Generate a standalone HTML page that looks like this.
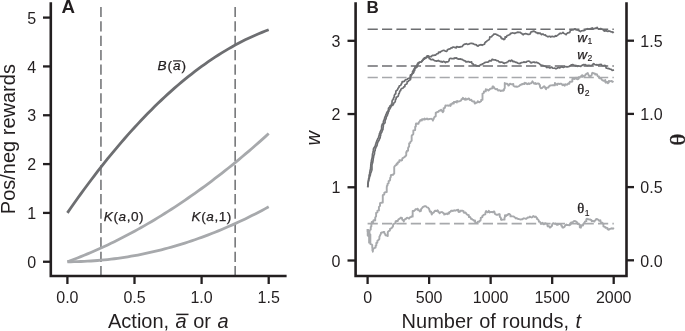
<!DOCTYPE html>
<html lang="en"><head><meta charset="utf-8"><title>Figure</title>
<style>
html,body{margin:0;padding:0;background:#fff}
body{width:685px;height:331px;overflow:hidden}
svg{display:block}
text{font-family:"Liberation Sans",Arial,Helvetica,sans-serif;fill:#231f20}
.tk{font-size:16px}
.lb{font-size:20px;word-spacing:0.9px}
.an{font-size:13.6px;letter-spacing:0.55px;stroke:#231f20;stroke-width:0.25px}
.sub{font-size:8.6px;stroke-width:0.15px}
.it{font-style:italic}
.th{font-family:"Liberation Serif","DejaVu Serif",serif}
.an.th{font-size:14.6px;stroke-width:0.35px}
.ax{stroke:#231f20;stroke-width:2.6;fill:none}
.t{stroke:#231f20;stroke-width:2.3;fill:none}
</style></head><body>
<svg width="685" height="331" viewBox="0 0 685 331">
<rect width="685" height="331" fill="#fff"/>

<g id="panelA">
<line x1="100.95" y1="6.9" x2="100.95" y2="276" stroke="#6d6e71" stroke-width="1.5" stroke-dasharray="10.2 4.2"/>
<line x1="235.15" y1="6.9" x2="235.15" y2="276" stroke="#6d6e71" stroke-width="1.5" stroke-dasharray="10.2 4.2"/>
<path d="M67.40,261.75 L70.76,261.73 L74.11,261.69 L77.47,261.61 L80.82,261.51 L84.18,261.37 L87.53,261.20 L90.89,261.00 L94.24,260.77 L97.59,260.51 L100.95,260.22 L104.31,259.90 L107.66,259.55 L111.02,259.17 L114.37,258.76 L117.72,258.32 L121.08,257.84 L124.44,257.34 L127.79,256.81 L131.15,256.24 L134.50,255.65 L137.86,255.02 L141.21,254.36 L144.56,253.68 L147.92,252.96 L151.28,252.21 L154.63,251.43 L157.99,250.63 L161.34,249.79 L164.69,248.92 L168.05,248.02 L171.41,247.09 L174.76,246.12 L178.12,245.13 L181.47,244.11 L184.82,243.06 L188.18,241.97 L191.53,240.86 L194.89,239.72 L198.25,238.54 L201.60,237.34 L204.96,236.10 L208.31,234.83 L211.66,233.54 L215.02,232.21 L218.38,230.85 L221.73,229.46 L225.09,228.04 L228.44,226.59 L231.80,225.11 L235.15,223.60 L238.50,222.06 L241.86,220.49 L245.22,218.89 L248.57,217.25 L251.92,215.59 L255.28,213.90 L258.63,212.17 L261.99,210.42 L265.35,208.63 L268.70,206.82" fill="none" stroke="#a7a9ac" stroke-width="2.8" stroke-linecap="butt"/>
<path d="M67.40,261.75 L70.76,260.51 L74.11,259.25 L77.47,257.95 L80.82,256.62 L84.18,255.26 L87.53,253.88 L90.89,252.46 L94.24,251.01 L97.59,249.53 L100.95,248.02 L104.31,246.48 L107.66,244.90 L111.02,243.30 L114.37,241.67 L117.72,240.01 L121.08,238.31 L124.44,236.59 L127.79,234.83 L131.15,233.05 L134.50,231.23 L137.86,229.38 L141.21,227.51 L144.56,225.60 L147.92,223.66 L151.28,221.69 L154.63,219.70 L157.99,217.67 L161.34,215.61 L164.69,213.52 L168.05,211.39 L171.41,209.24 L174.76,207.06 L178.12,204.85 L181.47,202.60 L184.82,200.33 L188.18,198.03 L191.53,195.69 L194.89,193.33 L198.25,190.93 L201.60,188.50 L204.96,186.05 L208.31,183.56 L211.66,181.04 L215.02,178.49 L218.38,175.92 L221.73,173.31 L225.09,170.67 L228.44,168.00 L231.80,165.30 L235.15,162.56 L238.50,159.80 L241.86,157.01 L245.22,154.19 L248.57,151.33 L251.92,148.45 L255.28,145.53 L258.63,142.59 L261.99,139.61 L265.35,136.61 L268.70,133.57" fill="none" stroke="#a7a9ac" stroke-width="2.8" stroke-linecap="butt"/>
<path d="M67.40,212.92 L70.76,208.07 L74.11,203.28 L77.47,198.55 L80.82,193.88 L84.18,189.27 L87.53,184.72 L90.89,180.23 L94.24,175.81 L97.59,171.45 L100.95,167.14 L104.31,162.90 L107.66,158.72 L111.02,154.60 L114.37,150.54 L117.72,146.54 L121.08,142.60 L124.44,138.73 L127.79,134.91 L131.15,131.16 L134.50,127.47 L137.86,123.84 L141.21,120.27 L144.56,116.76 L147.92,113.31 L151.28,109.92 L154.63,106.59 L157.99,103.33 L161.34,100.12 L164.69,96.98 L168.05,93.90 L171.41,90.88 L174.76,87.92 L178.12,85.02 L181.47,82.18 L184.82,79.40 L188.18,76.68 L191.53,74.03 L194.89,71.44 L198.25,68.90 L201.60,66.43 L204.96,64.02 L208.31,61.67 L211.66,59.38 L215.02,57.15 L218.38,54.99 L221.73,52.88 L225.09,50.83 L228.44,48.85 L231.80,46.93 L235.15,45.07 L238.50,43.27 L241.86,41.53 L245.22,39.85 L248.57,38.23 L251.92,36.67 L255.28,35.18 L258.63,33.74 L261.99,32.37 L265.35,31.06 L268.70,29.81" fill="none" stroke="#6d6e71" stroke-width="2.8" stroke-linecap="butt"/>
<path class="ax" d="M50.8,2.2 V276 H286.6"/>
<line class="t" x1="43" y1="261.75" x2="50.8" y2="261.75"/>
<text class="tk" x="36.2" y="267.95" text-anchor="end">0</text>
<line class="t" x1="43" y1="212.92" x2="50.8" y2="212.92"/>
<text class="tk" x="36.2" y="219.12" text-anchor="end">1</text>
<line class="t" x1="43" y1="164.09" x2="50.8" y2="164.09"/>
<text class="tk" x="36.2" y="170.29" text-anchor="end">2</text>
<line class="t" x1="43" y1="115.26" x2="50.8" y2="115.26"/>
<text class="tk" x="36.2" y="121.46" text-anchor="end">3</text>
<line class="t" x1="43" y1="66.43" x2="50.8" y2="66.43"/>
<text class="tk" x="36.2" y="72.63" text-anchor="end">4</text>
<line class="t" x1="43" y1="17.60" x2="50.8" y2="17.60"/>
<text class="tk" x="36.2" y="23.80" text-anchor="end">5</text>
<line class="t" x1="67.40" y1="276" x2="67.40" y2="284" />
<text class="tk" x="67.40" y="302.8" text-anchor="middle">0.0</text>
<line class="t" x1="134.50" y1="276" x2="134.50" y2="284" />
<text class="tk" x="134.50" y="302.8" text-anchor="middle">0.5</text>
<line class="t" x1="201.60" y1="276" x2="201.60" y2="284" />
<text class="tk" x="201.60" y="302.8" text-anchor="middle">1.0</text>
<line class="t" x1="268.70" y1="276" x2="268.70" y2="284" />
<text class="tk" x="268.70" y="302.8" text-anchor="middle">1.5</text>
<text transform="translate(61.4,12.8) scale(1.07,1)" style="font-size:17.5px;font-weight:bold">A</text>
<text class="lb" style="word-spacing:0" transform="translate(14.8,214.2) rotate(-90)">Pos/neg rewards</text>
<text class="lb" x="108" y="327.5">Action, <tspan class="it">a</tspan> or <tspan class="it">a</tspan></text>
<line x1="176.2" y1="314.4" x2="188.5" y2="314.4" stroke="#231f20" stroke-width="1.5"/>
<text class="an" style="letter-spacing:0.95px" x="157.5" y="69.8"><tspan class="it">B</tspan>(<tspan class="it">a</tspan>)</text>
<line x1="173.1" y1="60.9" x2="181.3" y2="60.9" stroke="#231f20" stroke-width="1.2"/>
<text class="an" x="103.8" y="220.8"><tspan class="it">K</tspan>(<tspan class="it">a</tspan>,0)</text>
<text class="an" x="191.6" y="220.8"><tspan class="it">K</tspan>(<tspan class="it">a</tspan>,1)</text>
</g>
<g id="panelB">
<line x1="367.6" y1="29.20" x2="613.8" y2="29.20" stroke="#6d6e71" stroke-width="1.50" stroke-dasharray="10.2 4.2"/>
<line x1="367.6" y1="65.90" x2="613.8" y2="65.90" stroke="#6d6e71" stroke-width="1.50" stroke-dasharray="10.2 4.2"/>
<line x1="367.6" y1="77.50" x2="613.8" y2="77.50" stroke="#a7a9ac" stroke-width="1.60" stroke-dasharray="10.2 4.2"/>
<line x1="367.6" y1="223.60" x2="613.8" y2="223.60" stroke="#a7a9ac" stroke-width="1.60" stroke-dasharray="10.2 4.2"/>
<path d="M367.70,229.00 L367.70,229.82 L367.70,230.62 L367.70,231.41 L368.87,232.16 L368.87,232.98 L369.10,233.75 L369.10,234.57 L369.10,235.37 L369.10,236.20 L369.10,237.00 L369.10,237.80 L369.10,238.57 L369.10,239.39 L369.10,240.19 L369.10,241.00 L369.10,241.82 L369.10,242.66 L369.10,242.65 L369.10,241.77 L369.10,240.95 L369.10,240.20 L369.10,239.44 L369.47,238.67 L369.47,237.83 L369.47,237.00 L369.47,236.23 L369.47,235.45 L369.47,234.64 L369.47,233.83 L369.47,232.99 L369.47,232.20 L369.47,231.47 L369.47,231.34 L369.47,232.15 L369.47,232.95 L369.47,233.74 L370.35,234.48 L370.35,235.30 L370.35,236.10 L370.35,236.91 L370.35,237.72 L370.35,238.53 L370.35,239.31 L370.35,240.19 L370.35,240.96 L370.35,241.89 L370.35,242.90 L370.35,243.57 L370.35,244.02 L371.67,244.43 L372.25,245.09 L372.25,246.00 L372.25,246.90 L372.25,247.53 L372.43,248.27 L372.43,249.77 L372.43,250.40 L372.82,250.72 L372.83,251.73 L372.93,250.89 L372.93,249.61 L373.24,249.29 L373.49,248.64 L374.10,248.12 L375.57,247.70 L375.57,246.87 L375.57,245.91 L376.32,245.42 L376.32,244.21 L376.32,243.34 L376.32,242.93 L377.37,242.74 L377.39,241.82 L377.41,240.81 L378.11,240.35 L378.72,239.81 L379.21,239.18 L379.40,238.32 L379.40,237.35 L379.40,236.67 L379.82,235.98 L380.21,235.28 L380.42,234.50 L380.96,233.86 L380.96,232.79 L381.84,232.50 L382.89,232.33 L383.15,231.97 L384.32,231.98 L384.49,232.93 L384.73,233.81 L385.39,234.29 L385.52,235.28 L386.47,235.47 L387.22,235.41 L387.77,236.12 L387.77,235.10 L387.77,234.26 L387.77,233.02 L387.77,232.44 L387.99,231.74 L388.69,231.17 L389.62,230.71 L390.04,230.01 L390.04,228.98 L390.79,228.62 L391.26,228.08 L391.96,227.77 L392.42,227.06 L393.00,226.51 L393.05,225.29 L393.27,224.28 L393.97,223.88 L394.63,223.42 L395.59,223.40 L395.59,221.75 L395.59,221.56 L396.16,221.02 L397.66,221.12 L397.93,220.33 L398.29,219.60 L398.98,219.11 L399.79,218.68 L400.88,217.58 L401.96,217.91 L402.11,219.14 L402.57,219.89 L403.19,220.35 L403.86,221.49 L404.05,219.85 L404.82,219.55 L405.34,218.90 L406.19,218.71 L406.60,217.92 L407.46,217.74 L409.08,218.56 L409.60,217.88 L410.00,217.11 L411.02,217.10 L411.54,216.46 L412.66,216.59 L412.66,215.05 L412.66,213.86 L412.66,212.66 L412.66,211.96 L412.66,210.97 L413.90,211.07 L414.45,210.45 L415.15,209.92 L415.45,209.30 L415.93,209.23 L416.73,209.28 L417.77,208.70 L418.12,210.18 L419.00,210.08 L419.82,211.40 L420.97,210.88 L420.97,209.35 L421.43,208.72 L421.99,208.14 L422.51,207.50 L423.05,206.90 L423.94,206.52 L424.97,206.16 L425.98,206.31 L426.58,206.96 L427.26,207.42 L428.21,207.57 L428.55,208.53 L429.20,209.09 L429.33,209.95 L429.78,210.61 L429.78,211.65 L431.22,211.60 L431.22,212.97 L431.40,213.37 L431.76,214.53 L432.39,213.40 L432.94,212.79 L433.75,212.55 L434.19,211.79 L434.67,211.09 L435.34,210.63 L436.35,211.14 L437.49,210.28 L438.09,210.84 L438.32,212.12 L439.22,212.12 L439.52,213.26 L441.10,212.08 L442.11,212.07 L442.70,212.68 L443.42,213.05 L444.08,213.50 L444.21,214.57 L444.32,214.16 L444.80,214.32 L445.62,214.08 L446.20,213.53 L447.65,214.15 L447.88,213.11 L449.14,213.53 L449.22,212.27 L449.97,212.02 L450.67,211.63 L451.09,210.65 L452.03,210.76 L453.02,210.99 L453.67,210.71 L454.29,210.24 L455.17,210.69 L455.96,210.53 L456.27,210.11 L458.28,209.64 L458.28,210.51 L458.28,211.59 L458.82,212.02 L460.27,211.54 L460.27,211.18 L460.27,211.60 L460.27,210.73 L460.27,210.70 L461.33,210.81 L462.70,210.75 L463.52,211.15 L463.72,212.59 L464.52,212.78 L465.55,212.47 L466.07,213.31 L466.55,214.11 L467.22,214.57 L467.93,214.97 L468.85,215.10 L468.85,217.07 L469.63,216.68 L470.27,217.17 L470.70,217.88 L470.89,218.80 L471.86,218.97 L472.38,219.58 L473.29,219.82 L473.63,220.59 L475.04,220.34 L475.04,221.74 L475.28,222.38 L475.98,222.94 L476.85,222.82 L477.90,221.71 L477.90,221.76 L477.90,221.74 L479.31,221.69 L479.56,220.90 L480.47,220.52 L480.68,219.71 L480.68,218.68 L480.79,217.90 L481.60,217.46 L482.40,217.07 L482.40,216.01 L482.98,215.49 L483.57,214.93 L484.42,214.58 L485.38,214.33 L485.38,212.89 L485.64,212.15 L486.10,211.02 L487.43,212.35 L488.18,212.07 L488.78,210.84 L489.72,212.46 L490.52,212.01 L491.32,211.93 L492.12,212.00 L492.81,212.32 L494.14,211.38 L494.64,212.23 L494.67,213.29 L495.07,214.01 L495.76,214.46 L496.60,214.77 L497.69,214.75 L499.10,214.05 L499.74,214.42 L499.74,215.95 L499.85,216.95 L500.55,217.35 L500.95,218.15 L500.95,219.68 L501.74,219.94 L502.54,219.61 L504.53,219.67 L504.53,218.68 L504.53,217.59 L504.92,217.19 L504.92,216.11 L504.92,215.43 L505.36,215.21 L506.21,215.88 L506.84,214.91 L507.70,215.15 L508.27,213.91 L509.12,213.91 L509.83,214.27 L510.37,214.91 L510.43,216.39 L511.44,216.26 L512.32,216.33 L513.19,216.43 L513.98,216.67 L514.61,217.31 L515.35,217.62 L515.92,218.45 L516.87,218.13 L517.52,218.71 L518.25,219.04 L519.10,219.13 L519.91,219.39 L520.72,219.47 L521.57,219.32 L522.39,219.30 L523.36,218.50 L523.90,218.32 L524.48,218.43 L525.44,218.69 L526.31,218.73 L526.97,218.21 L527.53,217.45 L528.41,217.46 L529.20,217.28 L529.87,216.52 L530.80,217.06 L531.70,217.53 L532.43,217.10 L533.24,215.95 L534.10,216.49 L534.78,216.97 L535.77,216.56 L536.32,217.49 L537.00,218.02 L537.03,219.06 L537.93,219.38 L538.42,220.01 L538.87,220.67 L538.87,221.68 L540.00,221.82 L540.35,222.50 L540.75,223.79 L541.67,223.50 L542.65,222.84 L543.23,223.88 L543.94,224.33 L545.04,223.18 L545.85,223.62 L547.08,223.59 L547.44,224.44 L547.44,225.58 L547.72,226.42 L548.95,226.32 L549.59,226.43 L549.78,227.64 L550.59,227.29 L551.08,226.55 L551.79,226.17 L552.10,225.15 L552.35,224.00 L553.22,223.11 L554.54,223.85 L555.34,223.55 L556.19,224.30 L557.04,224.88 L557.84,224.83 L558.59,224.14 L559.54,223.86 L560.54,224.03 L561.08,224.74 L561.41,225.88 L562.15,226.19 L562.42,227.46 L563.53,227.61 L564.53,226.80 L565.08,225.61 L565.79,225.17 L566.41,224.51 L567.26,225.16 L567.87,224.85 L569.33,225.34 L569.99,224.88 L570.65,224.43 L570.67,223.20 L571.08,222.35 L572.05,222.48 L572.81,222.23 L573.37,221.45 L574.07,221.04 L574.94,221.08 L575.74,221.29 L576.01,221.64 L576.71,222.04 L577.31,222.60 L577.40,223.51 L577.91,224.13 L579.15,224.25 L579.78,224.79 L579.78,225.86 L579.78,227.25 L580.86,227.70 L581.13,226.30 L581.13,225.23 L582.80,225.66 L583.19,224.93 L583.32,223.97 L583.85,223.36 L584.52,222.84 L584.79,222.04 L585.21,221.35 L586.35,221.17 L586.35,220.09 L586.35,219.22 L586.92,218.78 L587.48,218.93 L588.27,219.10 L588.95,219.54 L589.90,219.34 L590.56,219.85 L591.38,219.92 L591.76,221.17 L592.73,220.87 L593.47,221.15 L594.39,221.56 L594.81,220.58 L595.55,220.24 L595.97,219.26 L597.02,218.98 L597.92,219.53 L598.54,220.03 L598.99,220.73 L600.41,220.33 L600.48,221.43 L600.81,222.20 L601.55,222.47 L602.38,222.69 L602.81,223.47 L603.42,224.00 L603.42,225.70 L603.42,226.38 L604.08,226.71 L605.05,227.01 L605.42,227.73 L606.69,227.82 L607.53,228.20 L607.53,229.31 L608.66,229.37 L608.66,229.84 L608.66,229.63 L608.66,229.63 L609.23,229.47 L609.75,228.84 L610.80,228.83 L611.41,228.33 L612.37,228.69 L613.07,228.28 L614.08,228.81" fill="none" stroke="#a7a9ac" stroke-width="1.9" stroke-linejoin="round"/>
<path d="M367.70,229.00 L367.70,229.82 L367.72,230.60 L367.72,231.43 L367.72,232.30 L367.72,233.08 L367.72,233.93 L367.72,234.72 L367.72,235.61 L368.76,236.00 L368.76,235.00 L368.76,234.13 L368.76,233.41 L368.76,232.61 L369.15,231.88 L369.26,231.09 L369.26,230.28 L370.73,229.61 L370.73,228.86 L370.73,228.21 L370.73,227.10 L370.73,226.95 L371.36,226.49 L371.36,225.12 L371.36,224.41 L371.72,223.87 L371.72,222.54 L371.72,221.99 L373.31,222.02 L373.31,220.61 L373.53,220.29 L375.22,220.36 L375.22,219.14 L375.22,218.20 L375.22,217.52 L375.72,216.89 L376.11,216.18 L376.11,214.97 L376.11,214.13 L376.11,213.55 L376.13,212.79 L377.42,212.40 L377.42,211.50 L377.42,210.64 L378.92,210.39 L378.92,209.46 L378.92,208.36 L378.92,207.66 L378.92,206.88 L379.54,206.38 L380.02,205.71 L380.02,204.79 L380.02,203.93 L380.02,203.08 L381.33,202.79 L382.78,202.51 L382.78,201.46 L382.78,200.71 L382.78,199.91 L382.78,198.89 L382.78,197.97 L382.78,197.14 L382.78,195.94 L382.78,195.25 L383.08,194.87 L384.26,194.48 L384.30,193.64 L384.31,192.78 L385.14,192.24 L386.74,192.00 L386.74,190.76 L386.74,189.75 L386.74,188.94 L386.74,188.42 L386.74,187.43 L386.83,186.90 L386.83,185.96 L387.50,185.44 L387.53,184.59 L387.58,183.76 L388.60,183.29 L388.60,182.17 L388.60,181.32 L389.08,180.91 L389.92,180.37 L390.15,179.60 L390.15,178.18 L390.15,177.83 L390.73,177.27 L390.82,176.42 L390.82,175.09 L391.41,174.93 L393.06,174.85 L393.35,174.10 L394.22,173.64 L394.22,172.42 L394.22,171.68 L394.22,170.67 L394.22,169.62 L394.22,168.96 L394.22,168.09 L394.22,167.34 L394.41,166.59 L394.99,165.92 L395.69,165.25 L396.62,164.92 L396.62,163.82 L397.69,163.73 L397.69,162.34 L398.46,162.25 L399.33,161.97 L399.33,160.33 L399.72,160.14 L401.30,160.53 L402.13,160.19 L402.19,159.23 L402.37,158.38 L403.18,157.97 L403.76,157.40 L404.70,157.07 L405.03,156.33 L405.89,155.90 L406.24,155.14 L406.24,153.98 L406.24,152.92 L406.24,152.19 L406.91,151.83 L406.91,150.85 L408.09,150.64 L408.09,149.48 L408.09,148.80 L408.09,147.93 L408.44,147.38 L408.96,146.70 L409.16,145.93 L409.16,144.91 L409.16,144.09 L409.16,143.34 L410.28,142.92 L410.28,142.03 L410.81,141.41 L411.66,140.82 L411.66,139.80 L411.66,138.94 L411.66,137.79 L411.66,137.16 L411.67,136.67 L411.67,135.75 L412.14,135.14 L413.02,134.55 L413.33,133.80 L413.33,132.89 L413.36,132.15 L413.36,131.24 L413.36,130.43 L415.17,130.11 L415.17,129.14 L415.17,128.17 L415.17,127.52 L415.17,126.89 L415.84,126.40 L415.84,125.30 L415.84,124.21 L416.07,123.41 L417.36,123.74 L418.55,123.90 L418.61,122.74 L419.01,121.97 L419.74,121.59 L419.97,120.61 L420.62,120.08 L421.91,120.47 L421.99,119.21 L423.00,119.23 L424.05,119.69 L424.53,118.52 L425.46,119.36 L426.19,119.02 L426.97,118.48 L427.69,119.30 L428.50,119.23 L429.33,119.00 L430.25,118.83 L431.20,118.79 L431.94,119.10 L432.49,119.61 L432.92,120.57 L433.09,119.69 L433.67,119.08 L433.68,118.21 L434.38,117.63 L434.52,116.82 L435.65,116.38 L435.73,115.55 L435.73,114.27 L435.73,113.59 L435.73,112.68 L436.57,112.68 L437.06,112.03 L438.01,111.88 L438.46,111.73 L438.87,110.85 L439.64,110.51 L440.45,110.54 L441.12,109.71 L442.83,112.24 L443.57,111.27 L443.57,109.49 L443.57,108.16 L444.37,108.14 L445.00,107.64 L445.15,106.43 L445.44,105.42 L446.66,105.69 L447.51,105.42 L448.58,105.73 L449.32,105.43 L450.47,105.93 L450.47,104.12 L451.55,104.52 L452.02,103.66 L452.54,102.93 L453.78,103.62 L453.84,101.95 L454.78,102.04 L455.54,101.76 L456.79,102.50 L457.04,101.02 L458.02,101.32 L458.93,101.48 L459.65,101.13 L460.42,100.90 L461.12,100.47 L461.56,99.17 L462.39,99.00 L462.93,97.81 L464.08,99.11 L465.08,99.83 L465.56,98.46 L466.56,99.47 L467.26,99.30 L468.43,98.49 L469.22,98.67 L469.63,99.81 L470.36,100.14 L471.39,99.79 L471.78,100.92 L472.52,101.28 L473.34,101.50 L474.42,101.36 L474.57,102.54 L474.77,103.64 L475.69,103.22 L476.03,102.91 L476.69,102.49 L477.54,102.33 L477.80,101.27 L479.50,102.39 L480.14,101.77 L481.13,101.26 L481.13,100.06 L482.50,99.86 L482.50,98.97 L482.50,97.49 L482.50,97.12 L482.50,96.30 L482.50,95.22 L482.50,94.56 L482.50,93.63 L483.23,93.24 L483.95,92.73 L483.95,91.36 L484.64,91.37 L485.76,91.40 L485.76,89.24 L486.49,89.83 L487.30,89.67 L487.86,89.85 L488.48,90.55 L489.29,89.85 L490.06,88.80 L490.90,88.83 L491.59,88.36 L492.45,88.40 L492.58,86.36 L493.43,86.38 L494.63,88.48 L494.89,88.41 L495.30,89.07 L496.14,89.23 L497.18,89.04 L497.62,89.87 L498.20,90.46 L499.26,90.28 L500.12,90.36 L500.68,91.11 L501.73,90.65 L502.27,90.42 L503.07,90.90 L503.92,90.16 L503.92,89.27 L504.57,88.65 L504.76,87.87 L504.76,87.03 L504.76,86.09 L504.76,85.38 L504.76,84.46 L504.76,83.66 L504.76,82.85 L505.23,83.93 L506.03,83.78 L506.83,83.60 L507.63,83.99 L508.43,85.58 L508.85,85.43 L509.92,83.71 L510.68,83.97 L511.40,84.32 L512.32,84.18 L513.29,83.94 L513.43,85.78 L514.26,86.33 L515.15,86.69 L515.96,86.51 L516.75,86.77 L517.55,86.70 L518.37,86.43 L519.20,86.02 L519.97,85.20 L520.52,84.70 L521.34,84.70 L521.92,83.98 L522.90,84.30 L523.45,83.50 L524.53,84.08 L524.88,82.79 L525.89,83.09 L526.91,83.97 L527.72,84.20 L528.39,83.26 L529.31,84.01 L530.04,83.47 L530.83,83.34 L531.57,82.90 L532.40,81.34 L533.13,82.45 L533.76,83.09 L534.36,83.81 L535.44,83.11 L535.97,84.06 L536.95,83.70 L538.08,83.42 L538.98,83.58 L539.26,84.61 L539.95,85.02 L539.95,86.66 L540.34,87.35 L540.85,88.22 L542.04,87.99 L543.14,87.08 L544.14,86.21 L544.84,86.76 L545.35,88.25 L546.06,89.22 L546.82,87.58 L547.58,87.59 L548.57,87.67 L548.78,86.47 L549.56,86.22 L550.02,85.44 L550.93,85.35 L551.77,85.29 L552.60,85.16 L553.40,85.28 L554.21,84.97 L554.90,85.34 L554.90,82.94 L556.07,83.99 L557.23,84.92 L557.66,83.70 L558.49,83.66 L559.48,84.09 L560.36,83.68 L561.27,83.68 L561.93,84.21 L562.42,85.20 L563.55,84.41 L564.08,85.17 L564.78,85.71 L564.87,84.33 L565.80,84.27 L567.17,84.86 L567.64,84.13 L568.12,83.42 L569.36,83.79 L569.52,82.56 L569.85,81.75 L571.12,81.70 L572.33,81.61 L572.33,80.02 L572.33,79.21 L572.55,78.77 L573.48,78.81 L573.48,78.71 L573.88,78.20 L574.33,79.04 L575.98,77.71 L576.08,78.55 L576.85,78.96 L577.93,79.21 L578.60,78.77 L578.60,77.12 L579.72,77.64 L580.26,76.83 L580.90,76.28 L582.03,76.96 L582.03,75.16 L583.82,76.34 L584.61,75.99 L585.30,75.56 L585.43,74.52 L586.17,74.14 L586.43,73.88 L586.43,73.74 L587.74,73.03 L587.99,73.99 L588.48,74.66 L588.70,75.66 L589.63,76.31 L590.75,76.03 L591.50,75.63 L591.83,74.12 L592.33,72.82 L593.66,73.23 L594.76,73.50 L595.25,74.55 L596.25,74.09 L597.08,74.42 L597.41,75.70 L597.96,76.32 L598.96,76.43 L599.05,77.49 L599.48,78.19 L600.65,78.14 L601.36,78.53 L601.61,79.42 L602.21,79.95 L602.84,80.45 L603.59,80.80 L605.36,80.02 L605.36,81.45 L605.36,82.32 L605.95,82.70 L607.17,81.92 L607.77,82.53 L607.86,83.24 L608.11,82.99 L608.80,82.54 L608.80,80.92 L609.74,81.22 L610.80,81.15 L611.60,81.00 L612.05,81.71 L612.70,81.51 L613.35,82.30" fill="none" stroke="#a7a9ac" stroke-width="1.9" stroke-linejoin="round"/>
<path d="M367.70,187.30 L367.76,186.50 L367.90,185.71 L367.90,184.90 L368.06,184.12 L368.06,183.31 L368.18,182.52 L368.31,181.73 L368.35,180.93 L368.81,180.20 L368.86,179.41 L369.12,178.65 L369.45,177.91 L369.47,177.08 L369.88,176.37 L370.04,175.59 L370.37,174.85 L370.44,174.03 L370.55,173.23 L370.99,172.53 L371.26,171.78 L371.48,171.00 L371.77,170.25 L371.94,169.46 L371.94,168.63 L371.94,167.80 L371.94,166.99 L371.94,166.19 L371.94,165.38 L372.04,164.62 L372.27,163.84 L372.52,163.07 L372.75,162.30 L372.86,161.50 L372.98,160.71 L373.16,159.93 L373.17,159.12 L373.28,158.32 L373.51,157.55 L373.60,156.76 L373.72,155.97 L373.92,155.19 L374.31,154.44 L374.45,153.66 L374.49,152.85 L374.53,152.05 L374.68,151.26 L375.19,150.56 L375.19,149.63 L375.30,148.93 L375.63,148.20 L376.03,147.50 L376.06,146.66 L376.70,146.04 L377.02,145.30 L377.14,144.50 L377.38,143.74 L377.54,142.94 L377.90,142.22 L378.21,141.49 L378.71,140.84 L379.05,140.11 L379.31,139.35 L379.73,138.66 L380.05,137.91 L380.25,137.13 L380.25,136.26 L380.65,135.58 L380.65,134.74 L380.76,133.93 L381.09,133.20 L381.52,132.50 L382.05,131.82 L382.05,130.92 L382.45,130.28 L382.95,129.59 L382.95,128.75 L383.05,127.95 L383.15,127.14 L383.30,126.35 L383.34,125.51 L383.40,124.68 L383.85,123.99 L384.33,123.31 L385.06,122.72 L385.06,121.85 L385.06,120.94 L385.30,120.26 L385.56,119.51 L386.01,118.81 L386.21,118.04 L386.24,117.20 L386.49,116.44 L387.09,115.80 L387.44,115.08 L387.46,114.23 L388.07,113.62 L388.07,112.72 L388.37,111.99 L388.87,111.34 L388.94,110.49 L389.15,109.71 L389.71,109.08 L390.15,108.40 L390.54,107.69 L390.89,106.96 L391.14,106.17 L391.52,105.47 L392.85,105.34 L392.92,104.44 L393.65,103.95 L393.73,103.07 L394.44,102.56 L395.00,101.96 L395.31,101.21 L395.37,100.31 L395.37,99.38 L396.13,98.91 L396.14,97.99 L396.31,97.17 L397.34,96.83 L398.10,96.35 L398.32,95.55 L398.53,94.75 L398.69,93.92 L399.25,93.32 L399.54,92.56 L399.60,91.64 L400.02,90.95 L400.73,90.47 L400.80,89.56 L401.19,88.86 L401.93,88.38 L403.02,88.16 L403.45,87.50 L403.87,86.82 L404.88,86.59 L404.88,85.52 L405.07,84.70 L405.88,84.33 L406.65,83.92 L407.13,83.28 L407.13,81.88 L407.64,81.63 L408.40,81.22 L408.87,80.57 L409.55,80.09 L410.41,79.71 L410.65,78.85 L410.65,77.86 L410.65,76.82 L411.07,76.30 L411.38,75.55 L411.78,74.86 L411.97,74.10 L412.66,73.58 L413.38,73.02 L413.82,72.34 L413.82,71.39 L414.40,70.85 L414.77,70.14 L414.77,68.97 L414.94,68.46 L414.94,67.39 L415.06,66.63 L416.19,66.38 L416.90,65.87 L417.04,65.02 L417.21,64.19 L417.91,63.65 L418.23,62.61 L419.20,62.63 L419.90,62.25 L420.81,62.22 L421.46,61.75 L421.82,60.93 L422.57,60.59 L423.12,60.01 L423.40,59.13 L423.88,58.46 L424.50,57.86 L425.45,57.69 L426.42,57.74 L427.11,57.34 L427.74,56.47 L428.67,56.76 L429.02,57.69 L429.25,58.57 L430.19,58.78 L430.63,59.47 L431.39,59.74 L432.46,59.38 L433.24,59.61 L433.86,60.15 L434.40,60.59 L435.00,60.80 L435.76,60.80 L436.56,61.19 L437.37,60.89 L438.22,60.47 L438.99,61.14 L439.80,61.13 L440.54,61.71 L441.37,61.45 L442.11,62.17 L442.96,61.61 L443.79,61.31 L444.54,61.92 L445.46,62.71 L446.06,61.77 L447.05,61.92 L447.91,61.84 L448.58,61.38 L449.07,60.60 L449.27,59.29 L449.89,58.52 L450.83,58.33 L451.76,58.76 L452.56,58.71 L453.32,58.44 L454.15,58.53 L454.85,57.85 L455.72,58.20 L456.60,57.83 L457.27,58.79 L458.02,59.04 L458.90,58.94 L459.70,59.07 L460.62,58.84 L461.23,59.47 L462.00,59.40 L462.74,59.72 L463.45,60.46 L464.24,60.62 L465.02,60.82 L465.69,61.83 L466.52,61.71 L467.08,61.79 L467.82,61.67 L468.86,61.54 L469.44,62.12 L470.36,62.19 L471.59,61.80 L471.78,62.93 L472.22,63.71 L473.07,63.89 L473.32,64.98 L474.13,65.15 L474.96,65.16 L475.82,65.06 L476.41,65.91 L477.25,65.89 L478.07,65.94 L478.85,66.07 L479.43,66.07 L479.63,65.31 L480.34,64.93 L481.00,64.48 L482.02,64.54 L482.43,63.74 L483.40,63.73 L483.99,63.14 L484.65,62.57 L485.46,62.40 L486.27,62.27 L487.06,62.11 L487.90,62.08 L488.66,61.81 L489.16,60.87 L489.88,60.52 L490.94,61.05 L491.62,60.60 L492.00,59.38 L492.90,59.47 L493.96,59.97 L494.63,60.01 L495.13,59.86 L495.84,60.11 L496.51,60.56 L497.34,60.69 L498.18,60.78 L498.60,61.75 L499.50,61.73 L500.07,62.38 L501.16,61.98 L501.96,62.17 L502.79,62.29 L503.30,63.07 L504.05,63.30 L504.51,63.43 L504.85,62.92 L505.69,62.73 L506.65,62.70 L507.12,61.98 L507.95,61.76 L508.56,61.24 L509.09,60.52 L509.92,60.69 L510.66,61.29 L511.59,60.12 L512.33,60.76 L513.04,61.60 L513.85,61.37 L514.55,61.72 L515.23,62.14 L516.02,62.32 L516.82,62.42 L517.49,62.98 L518.21,63.34 L519.06,63.30 L519.95,63.58 L520.80,62.89 L521.56,62.64 L522.36,62.53 L523.13,62.32 L523.85,61.89 L524.77,62.31 L525.55,62.13 L526.31,62.11 L527.05,61.38 L527.85,61.26 L528.65,61.12 L529.45,61.24 L530.25,62.06 L531.05,62.89 L531.81,62.45 L532.53,62.33 L533.35,62.17 L534.20,62.02 L534.90,62.56 L535.75,62.45 L536.62,62.21 L537.31,62.79 L538.11,62.90 L538.79,63.35 L539.46,63.78 L540.04,64.42 L540.74,64.82 L541.39,65.30 L542.25,65.37 L543.06,65.56 L543.82,65.87 L544.60,66.09 L545.34,66.40 L546.11,66.63 L546.68,67.54 L547.59,67.27 L548.37,67.45 L549.21,67.51 L549.95,68.03 L550.84,67.56 L551.72,67.14 L552.41,67.91 L553.16,68.24 L553.96,68.27 L554.83,67.99 L555.55,68.69 L556.43,68.69 L557.18,68.12 L557.92,67.76 L558.67,67.42 L559.59,67.96 L560.34,67.60 L561.03,66.99 L561.82,66.72 L562.68,67.29 L563.47,67.46 L564.27,67.04 L565.07,66.60 L565.87,66.57 L566.67,66.89 L567.46,66.81 L568.18,66.65 L568.94,66.56 L569.65,66.17 L570.31,65.63 L570.97,65.09 L571.73,64.83 L572.67,64.62 L573.62,65.08 L574.40,65.41 L575.23,65.30 L575.92,66.05 L576.80,65.64 L577.50,66.30 L578.36,65.91 L579.07,66.01 L579.90,66.26 L580.75,66.33 L581.38,65.63 L582.17,65.47 L582.82,64.83 L583.62,64.71 L584.48,64.80 L585.27,64.49 L585.99,65.29 L586.78,65.42 L587.56,65.62 L588.42,65.29 L589.22,65.31 L590.03,65.49 L590.90,65.55 L591.70,65.43 L592.36,64.85 L593.02,64.24 L593.68,63.65 L594.70,64.50 L595.43,64.75 L596.22,65.03 L597.02,64.56 L597.82,65.15 L598.62,64.89 L599.29,64.62 L600.07,64.47 L601.07,64.25 L601.58,65.01 L602.29,65.40 L603.01,65.74 L603.97,65.60 L605.01,65.46 L605.73,65.93 L605.97,67.04 L606.16,68.22 L607.09,68.24 L607.86,68.53 L608.85,68.47 L609.46,68.72 L610.00,69.27 L610.81,69.24 L611.56,69.62 L612.25,70.34 L613.07,70.27 L613.95,69.90" fill="none" stroke="#6d6e71" stroke-width="1.7" stroke-linejoin="round"/>
<path d="M367.70,187.30 L367.88,186.52 L367.89,185.71 L367.89,184.88 L367.92,184.10 L368.05,183.31 L368.15,182.52 L368.33,181.74 L368.50,180.95 L368.50,180.14 L368.53,179.34 L368.66,178.55 L368.92,177.78 L369.11,177.00 L369.11,176.18 L369.11,175.38 L369.37,174.61 L369.69,173.85 L369.74,173.05 L369.74,172.24 L370.00,171.47 L370.03,170.66 L370.23,169.88 L370.49,169.12 L370.59,168.32 L370.62,167.52 L370.78,166.73 L370.78,165.92 L370.83,165.12 L370.87,164.32 L371.00,163.53 L371.08,162.73 L371.22,161.94 L371.32,161.15 L371.49,160.37 L371.65,159.58 L371.84,158.80 L372.16,158.05 L372.16,157.21 L372.36,156.46 L372.41,155.65 L372.41,154.83 L372.54,154.05 L372.74,153.27 L373.05,152.52 L373.05,151.69 L373.19,150.92 L373.39,150.15 L373.42,149.31 L373.60,148.52 L374.07,147.84 L374.47,147.13 L374.87,146.42 L375.14,145.67 L375.38,144.91 L375.59,144.14 L376.05,143.47 L376.15,142.64 L376.45,141.90 L376.84,141.20 L376.91,140.35 L377.53,139.76 L377.70,138.96 L378.05,138.24 L378.69,137.61 L378.69,136.76 L378.78,135.96 L379.32,135.29 L379.32,134.43 L379.46,133.65 L379.83,132.93 L380.15,132.19 L380.46,131.45 L380.70,130.69 L381.13,129.99 L381.43,129.24 L381.62,128.47 L381.62,127.61 L381.65,126.80 L381.65,125.92 L382.12,125.26 L382.12,124.40 L382.68,123.76 L383.35,123.15 L383.35,122.27 L383.40,121.47 L383.62,120.70 L384.14,120.04 L384.19,119.21 L384.49,118.46 L384.68,117.68 L384.96,116.93 L385.58,116.30 L385.58,115.45 L385.87,114.71 L386.24,113.99 L386.75,113.35 L386.75,112.46 L387.38,111.88 L387.75,111.17 L388.21,110.50 L388.45,109.73 L388.45,108.79 L388.61,108.04 L389.26,107.46 L389.60,106.74 L389.92,106.00 L390.69,105.48 L391.40,104.93 L391.41,104.05 L392.04,103.46 L392.04,102.36 L392.04,101.40 L392.17,100.87 L392.48,100.14 L392.99,99.48 L393.39,98.78 L393.58,98.00 L394.03,97.31 L394.27,96.55 L394.27,95.61 L394.53,94.94 L394.93,94.23 L395.75,93.69 L395.75,92.74 L395.82,92.00 L396.00,91.21 L396.36,90.48 L397.29,90.13 L397.69,89.44 L397.88,88.60 L398.34,87.95 L398.97,87.40 L399.03,86.49 L399.45,85.80 L400.38,85.49 L400.98,84.97 L401.31,84.20 L401.59,83.40 L402.04,82.74 L402.19,81.72 L403.22,81.68 L403.98,81.39 L404.67,80.99 L405.09,80.12 L405.72,79.63 L406.59,79.54 L407.32,79.19 L407.85,78.55 L408.65,78.30 L409.50,78.10 L409.88,77.27 L410.15,76.51 L410.33,75.69 L410.50,74.87 L411.44,74.49 L412.06,73.93 L412.54,73.28 L412.54,72.32 L412.56,71.49 L413.12,70.87 L413.47,70.15 L414.01,69.53 L414.19,68.73 L414.93,68.20 L415.91,67.83 L416.57,67.36 L417.18,66.84 L417.23,65.91 L417.72,65.28 L417.76,64.34 L418.34,63.87 L418.62,63.16 L419.20,62.56 L419.81,62.00 L420.71,62.00 L421.47,61.70 L422.14,61.24 L422.38,60.30 L423.10,59.91 L423.34,58.99 L424.51,59.08 L425.01,58.44 L425.67,58.00 L426.29,57.50 L426.61,56.52 L427.22,55.78 L428.33,55.81 L429.00,56.87 L429.93,56.60 L430.63,56.68 L431.27,56.72 L431.81,55.93 L432.45,55.34 L433.31,55.36 L434.07,55.45 L434.60,55.02 L435.73,55.03 L436.16,54.32 L436.79,53.82 L437.74,53.65 L438.41,53.48 L438.47,52.29 L439.24,52.01 L440.10,52.41 L440.80,51.60 L441.55,51.26 L442.28,50.84 L443.04,50.51 L443.82,50.34 L444.67,50.72 L445.61,51.23 L446.58,51.37 L447.18,50.77 L447.49,49.56 L448.29,49.38 L449.01,49.04 L449.85,48.94 L450.58,48.59 L451.20,47.73 L452.09,48.00 L452.70,47.12 L453.51,47.05 L454.40,47.33 L455.25,47.43 L456.17,47.89 L456.75,46.58 L457.61,46.89 L458.44,47.19 L459.22,46.93 L460.04,47.14 L460.77,46.55 L461.61,46.75 L462.38,46.44 L462.76,45.57 L463.32,44.97 L464.02,44.59 L464.60,44.02 L465.60,44.06 L466.23,43.63 L466.93,44.07 L467.68,44.36 L468.50,44.11 L469.32,43.89 L470.16,43.49 L470.97,43.33 L471.80,43.26 L472.57,43.75 L473.42,43.72 L474.13,44.16 L474.85,44.56 L475.66,44.62 L476.42,44.87 L477.09,45.74 L478.02,46.12 L478.74,45.37 L479.52,45.12 L480.30,44.86 L481.09,44.71 L482.09,45.28 L482.90,44.80 L483.70,44.47 L484.55,44.23 L484.72,43.21 L485.14,42.46 L485.69,41.88 L486.52,41.62 L486.98,40.90 L487.65,40.43 L488.42,40.06 L489.11,39.61 L489.54,38.91 L489.66,37.92 L489.84,36.86 L490.91,36.99 L491.67,36.69 L492.11,35.87 L492.73,35.36 L493.39,34.90 L493.88,34.01 L494.96,34.11 L495.90,34.17 L496.65,34.47 L497.31,35.13 L498.10,35.28 L498.82,35.69 L499.52,35.95 L500.15,36.32 L500.80,36.79 L500.97,37.83 L501.84,38.04 L502.14,38.93 L503.22,38.88 L503.93,39.66 L504.74,39.06 L505.08,38.21 L505.08,36.92 L506.33,37.21 L506.64,36.34 L507.11,35.67 L507.95,35.37 L508.73,35.06 L509.51,34.79 L510.12,34.27 L510.49,33.36 L511.50,33.44 L512.17,32.85 L513.03,32.97 L513.87,33.14 L514.72,33.44 L515.46,33.02 L516.22,32.68 L517.02,32.62 L517.96,32.11 L518.74,32.30 L519.54,32.40 L520.34,32.47 L521.02,33.10 L521.78,33.36 L522.41,34.34 L523.24,34.82 L524.06,33.74 L524.86,33.89 L525.66,33.54 L526.46,33.94 L527.26,34.03 L528.07,34.39 L528.92,34.29 L529.78,34.13 L530.40,33.53 L530.74,32.23 L531.44,31.82 L532.21,31.58 L533.02,31.45 L533.75,31.05 L534.78,31.77 L535.54,31.91 L536.12,32.66 L536.99,32.60 L537.55,33.43 L538.56,32.95 L539.23,33.45 L540.20,33.15 L540.83,33.76 L541.33,34.66 L542.40,34.12 L543.23,34.20 L543.86,34.78 L544.60,35.09 L545.48,34.94 L546.02,35.85 L546.81,36.00 L547.50,36.64 L548.30,36.71 L549.21,36.23 L550.02,36.27 L550.67,37.09 L551.53,36.55 L552.22,36.35 L553.09,36.55 L553.96,36.75 L554.78,36.72 L555.32,35.72 L556.43,36.22 L557.00,35.57 L557.66,35.10 L558.34,34.67 L559.00,34.20 L559.56,33.51 L560.33,33.17 L561.21,33.65 L562.04,33.10 L562.95,32.40 L563.65,33.20 L564.39,33.64 L565.15,34.11 L566.17,34.63 L566.69,33.59 L567.36,33.15 L568.10,32.82 L568.97,32.70 L569.72,32.38 L570.02,31.39 L570.44,30.44 L571.26,30.23 L571.85,29.50 L572.87,29.99 L573.59,29.61 L574.32,29.29 L575.11,28.77 L575.85,29.68 L576.57,29.93 L577.42,29.93 L578.10,30.42 L578.90,30.56 L579.62,31.02 L580.50,31.54 L581.31,30.93 L582.10,30.78 L582.88,30.60 L583.72,30.66 L584.48,30.40 L585.18,29.94 L585.84,29.32 L586.64,29.27 L587.38,28.72 L588.22,29.03 L589.01,28.94 L589.83,29.04 L590.59,28.64 L591.35,28.25 L592.18,27.94 L592.97,28.67 L593.78,28.64 L594.58,28.66 L595.46,28.08 L596.22,28.46 L597.15,27.37 L597.80,28.68 L598.58,28.85 L599.36,29.09 L600.21,28.69 L601.02,28.61 L601.75,29.28 L602.56,29.39 L603.29,29.78 L603.72,30.62 L604.37,31.08 L605.57,30.65 L606.37,30.87 L607.16,31.11 L607.83,31.48 L608.36,31.26 L608.77,30.90 L609.60,31.19 L610.42,31.39 L611.27,31.93 L612.07,31.89 L612.92,32.54 L613.65,31.61" fill="none" stroke="#6d6e71" stroke-width="1.7" stroke-linejoin="round"/>
<path class="ax" d="M355.6,2.2 V276 H626.5 V2.2"/>
<line class="t" x1="347.5" y1="260.50" x2="355.5" y2="260.50"/>
<text class="tk" x="340.5" y="266.70" text-anchor="end">0</text>
<line class="t" x1="347.5" y1="187.27" x2="355.5" y2="187.27"/>
<text class="tk" x="340.5" y="193.47" text-anchor="end">1</text>
<line class="t" x1="347.5" y1="114.04" x2="355.5" y2="114.04"/>
<text class="tk" x="340.5" y="120.24" text-anchor="end">2</text>
<line class="t" x1="347.5" y1="40.81" x2="355.5" y2="40.81"/>
<text class="tk" x="340.5" y="47.01" text-anchor="end">3</text>
<line class="t" x1="626.6" y1="260.30" x2="634" y2="260.30"/>
<text class="tk" x="640.3" y="266.50">0.0</text>
<line class="t" x1="626.6" y1="187.10" x2="634" y2="187.10"/>
<text class="tk" x="640.3" y="193.30">0.5</text>
<line class="t" x1="626.6" y1="113.90" x2="634" y2="113.90"/>
<text class="tk" x="640.3" y="120.10">1.0</text>
<line class="t" x1="626.6" y1="40.70" x2="634" y2="40.70"/>
<text class="tk" x="640.3" y="46.90">1.5</text>
<line class="t" x1="367.60" y1="276" x2="367.60" y2="284"/>
<text class="tk" x="367.60" y="302.8" text-anchor="middle">0</text>
<line class="t" x1="429.12" y1="276" x2="429.12" y2="284"/>
<text class="tk" x="429.12" y="302.8" text-anchor="middle">500</text>
<line class="t" x1="490.65" y1="276" x2="490.65" y2="284"/>
<text class="tk" x="490.65" y="302.8" text-anchor="middle">1000</text>
<line class="t" x1="552.18" y1="276" x2="552.18" y2="284"/>
<text class="tk" x="552.18" y="302.8" text-anchor="middle">1500</text>
<line class="t" x1="613.70" y1="276" x2="613.70" y2="284"/>
<text class="tk" x="613.70" y="302.8" text-anchor="middle">2000</text>
<text x="366.6" y="12.8" style="font-size:17px;font-weight:bold">B</text>
<text class="lb it" transform="translate(320.4,145.5) rotate(-90)">w</text>
<text class="lb" x="401.6" y="327.5">Number of rounds, <tspan class="it">t</tspan></text>
<text class="lb th" transform="translate(684.5,145.6) rotate(-90) scale(1.22,1)" style="stroke:#231f20;stroke-width:0.4px">θ</text>
<text class="an" x="577.2" y="41.7"><tspan class="it">w</tspan><tspan class="sub" dy="2.3">1</tspan></text>
<text class="an" x="577.2" y="58.6"><tspan class="it">w</tspan><tspan class="sub" dy="2.3">2</tspan></text>
<text class="an th" x="577.2" y="93.6">θ<tspan class="sub" dy="2.3" style="font-family:&quot;Liberation Sans&quot;,Arial,sans-serif">2</tspan></text>
<text class="an th" x="577.2" y="213.4">θ<tspan class="sub" dy="2.3" style="font-family:&quot;Liberation Sans&quot;,Arial,sans-serif">1</tspan></text>
</g>
</svg>
</body></html>
